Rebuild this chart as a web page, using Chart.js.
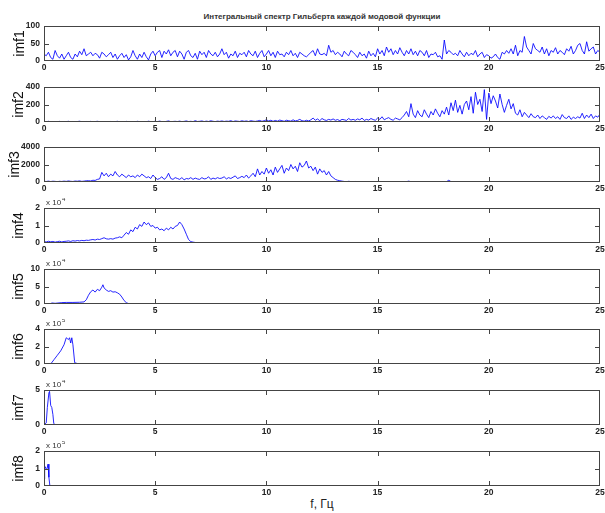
<!DOCTYPE html>
<html>
<head>
<meta charset="utf-8">
<script src="https://cdn.jsdelivr.net/npm/chart.js@4.4.1/dist/chart.umd.min.js"></script>
<style>
  body { margin: 0; background: #fff; width: 605px; height: 513px; position: relative; overflow: hidden; font-family: "Liberation Sans", Arial, sans-serif; }
  canvas { position: absolute; left: 0; }
  #title { position: absolute; top: 12px; left: 44px; width: 556px; text-align: center; font-size: 8px; font-weight: bold; color: #333; }
  #xlab { position: absolute; top: 497px; left: 44px; width: 556px; text-align: center; font-size: 12px; color: #222; }
</style>
</head>
<body>
<div id="title">Интегральный спектр Гильберта каждой модовой функции</div>
<div id="xlab">f, Гц</div>
<script>
'use strict';
// ******* DATA ********
// imf1..imf3: values every 0.1 Hz from 0 to 25 Hz
let freqStep = 0.1;

let imf1 = [
  20, 15, 25, 10, 5, 30, 15, 8, 20, 5,
  15, 25, 10, 5, 20, 12, 28, 18, 35, 15,
  20, 25, 15, 22, 18, 8, 25, 20, 12, 18,
  25, 10, 20, 5, 15, 22, 10, 18, 3, 12,
  30, 15, 5, 20, 10, 25, 12, 3, 20, 28,
  15, 25, 30, 10, 28, 20, 32, 15, 25, 30,
  12, 28, 20, 5, 25, 30, 15, 10, 22, 5,
  28, 18, 25, 10, 30, 20, 15, 25, 12, 20,
  35, 18, 25, 8, 20, 15, 28, 10, 22, 18,
  25, 12, 30, 20, 15, 28, 10, 22, 30, 12,
  20, 30, 15, 25, 10, 28, 18, 20, 12, 25,
  18, 30, 15, 22, 10, 25, 20, 15, 12, 18,
  25, 30, 15, 35, 20, 18, 22, 15, 45, 25,
  30, 18, 25, 20, 12, 28, 20, 15, 30, 25,
  18, 10, 25, 15, 20, 8, 28, 15, 22, 12,
  35, 20, 30, 15, 40, 25, 35, 18, 30, 20,
  38, 25, 15, 30, 20, 35, 18, 28, 15, 30,
  25, 15, 30, 10, 20, 18, 25, 12, 15, 5,
  60, 20, 30, 25, 18, 22, 15, 30, 20, 12,
  25, 15, 22, 18, 30, 12, 20, 25, 10, 18,
  15, 8, 12, 20, 10, 5, 25, 20, 30, 22,
  35, 20, 45, 15, 30, 25, 70, 40, 30, 20,
  50, 35, 30, 25, 40, 20, 35, 15, 30, 25,
  38, 20, 30, 25, 18, 35, 28, 42, 20, 30,
  45, 50, 30, 20, 55, 28, 35, 40, 20, 30, 25
];

let imf2 = [
  5, 3, 8, 2, 6, 4, 3, 7, 2, 5,
  4, 8, 3, 6, 2, 5, 9, 3, 4, 6,
  3, 7, 2, 5, 8, 4, 3, 6, 2, 5,
  6, 2, 4, 8, 3, 5, 2, 7, 4, 3,
  5, 3, 8, 4, 2, 6, 3, 9, 4, 5,
  8, 4, 10, 5, 3, 7, 12, 4, 6, 8,
  5, 10, 4, 7, 12, 5, 8, 4, 15, 6,
  8, 12, 5, 10, 6, 14, 8, 5, 10, 7,
  12, 6, 10, 8, 15, 5, 12, 9, 6, 14,
  8, 12, 6, 15, 10, 7, 12, 18, 8, 15,
  25, 12, 20, 8, 18, 10, 22, 15, 8, 20,
  15, 10, 25, 12, 18, 30, 15, 10, 20, 12,
  25, 45, 20, 35, 15, 40, 25, 18, 30, 22,
  35, 20, 28, 15, 30, 25, 18, 40, 22, 30,
  20, 35, 25, 45, 18, 30, 22, 40, 28, 20,
  45, 30, 60, 25, 40, 50, 30, 20, 45, 35,
  25, 50, 80, 120, 60, 210, 90, 50, 130, 80,
  60, 140, 90, 50, 120, 80, 150, 100, 60, 130,
  90, 170, 80, 220, 130, 250, 110, 190, 90, 200,
  240, 140, 290, 100, 340, 200, 260, 120, 370, 30,
  330, 210, 300, 240, 160, 320, 200, 110, 190, 260,
  150, 210, 100, 80, 140, 60, 110, 80, 50, 95,
  60, 50, 80, 40, 70, 50, 30, 65, 45, 70,
  40, 60, 30, 85, 50, 40, 70, 30, 55, 40,
  60, 45, 100, 40, 80, 50, 90, 40, 70, 55, 90
];

let imf3 = [
  80, 60, 100, 50, 90, 70, 40, 80, 60, 100,
  70, 120, 80, 60, 110, 90, 130, 70, 100, 140,
  150, 120, 200, 180, 300, 350, 1100, 700, 1000, 600,
  900, 700, 1200, 800, 600, 900, 700, 500, 800, 600,
  700, 500, 800, 600, 900, 700, 500, 600, 400, 800,
  500, 300, 400, 600, 300, 500, 1000, 400, 300, 500,
  400, 300, 500, 250, 400, 350, 500, 300, 450, 350,
  300, 500, 350, 400, 600, 300, 450, 350, 500, 400,
  450, 600, 350, 500, 400, 550, 700, 400, 500, 650,
  500, 800, 450, 700, 1000, 600, 1500, 800, 1200, 900,
  1600, 1000, 1400, 800, 1700, 1100, 1500, 1900, 1000, 1600,
  1300, 2000, 1500, 1800, 1200, 2200, 1700, 1900, 2400, 1600,
  1800, 1300, 1700, 900, 1500, 1100, 1300, 800, 1200, 700,
  500, 300, 200, 150, 100, 60, 40, 80, 50, 30,
  60, 20, 40, 30, 20, 30, 20, 30, 20, 30,
  20, 30, 20, 40, 20, 30, 20, 30, 20, 30,
  20, 30, 20, 40, 100, 30, 20, 30, 20, 30,
  20, 30, 20, 40, 20, 30, 20, 30, 20, 30,
  20, 40, 200, 40, 20, 30, 20, 30, 20, 30,
  30, 15, 35, 20, 25, 10, 30, 20, 15, 25,
  20, 30, 15, 25, 10, 20, 30, 15, 25, 20,
  15, 25, 20, 30, 10, 25, 15, 20, 30, 20,
  25, 15, 30, 20, 10, 25, 20, 15, 30, 20,
  20, 30, 15, 25, 20, 10, 25, 30, 15, 20,
  25, 15, 20, 30, 10, 20, 25, 15, 30, 20, 25
];

// imf4..imf8: frequency / value pairs (values in units of the axis multiplier)
let imf4Freq = [
  0, 0.1, 0.2, 0.3, 0.4, 0.5, 0.6, 0.7, 0.8, 0.9,
  1, 1.1, 1.2, 1.3, 1.4, 1.5, 1.6, 1.7, 1.8, 1.9,
  2, 2.1, 2.2, 2.3, 2.4, 2.5, 2.6, 2.7, 2.8, 2.9,
  3, 3.1, 3.2, 3.3, 3.4, 3.5, 3.6, 3.7, 3.8, 3.9,
  4, 4.1, 4.2, 4.3, 4.4, 4.5, 4.6, 4.7, 4.8, 4.9,
  5, 5.1, 5.2, 5.3, 5.4, 5.5, 5.6, 5.7, 5.8, 5.9,
  6, 6.1, 6.2, 6.3, 6.4, 6.5, 6.6, 6.7, 6.8, 6.9, 7, 25
];
let imf4 = [
  0.08, 0.06, 0.1, 0.07, 0.09, 0.05, 0.08, 0.1, 0.06, 0.09,
  0.1, 0.12, 0.09, 0.13, 0.11, 0.14, 0.12, 0.15, 0.13, 0.16,
  0.15, 0.18, 0.2, 0.17, 0.22, 0.2, 0.25, 0.3, 0.24, 0.22,
  0.25, 0.22, 0.28, 0.3, 0.35, 0.3, 0.45, 0.6, 0.5, 0.75,
  0.65, 0.9, 0.8, 1.05, 0.95, 1.2, 1.05, 1.15, 0.95, 1.0,
  0.85, 0.9, 0.75, 0.8, 0.7, 0.85, 0.75, 0.9, 0.8, 0.95,
  1.0, 1.2, 1.05, 0.8, 0.5, 0.2, 0.08, 0.05, 0.03, 0.02, 0.01, 0
];

let imf5Freq = [0, 0.3, 0.35, 0.5, 0.8, 1.0, 1.3, 1.6, 1.8, 1.9, 2.0, 2.1, 2.2, 2.3, 2.4, 2.5, 2.6, 2.65, 2.7, 2.8, 2.9, 3.0, 3.1, 3.2, 3.3, 3.4, 3.5, 3.6, 3.7, 3.8, 4.0, 25];
let imf5 = [0, 0, 0.3, 0.2, 0.4, 0.45, 0.45, 0.5, 0.6, 1.2, 2.5, 3.5, 4.0, 3.4, 4.2, 3.8, 4.8, 5.5, 4.6, 4.0, 3.6, 3.8, 3.4, 3.5, 3.2, 2.8, 2.0, 1.0, 0.4, 0.1, 0, 0];

let imf6Freq = [0, 0.3, 0.45, 0.6, 0.75, 0.9, 1.0, 1.05, 1.1, 1.15, 1.2, 1.25, 1.3, 1.38, 1.5, 25];
let imf6 = [0, 0, 0.5, 1.0, 1.5, 2.2, 3.0, 2.9, 2.8, 3.0, 2.4, 3.0, 2.2, 0.15, 0.05, 0];

let imf7Freq = [0, 0.1, 0.15, 0.22, 0.25, 0.3, 0.35, 0.4, 0.44, 0.5, 25];
let imf7 = [0, 0.3, 2.5, 4.6, 4.8, 2.8, 2.5, 1.5, 0.2, 0.05, 0];

let imf8Freq = [0, 0.03, 0.06, 0.1, 0.14, 0.18, 0.22, 0.26, 0.3, 25];
let imf8 = [0.4, 1.0, 1.1, 0.95, 1.0, 1.25, 0.5, 0.05, 0, 0];

let names = ['imf1', 'imf2', 'imf3', 'imf4', 'imf5', 'imf6', 'imf7', 'imf8'];
let yMax = [100, 400, 4000, 2, 10, 4, 5, 2];
let yStep = [50, 200, 2000, 1, 5, 2, 5, 1];
let yExp = [0, 0, 0, 4, 4, 5, 4, 5];
let xTicks = [0, 5, 10, 15, 20, 25];

// ******* LAYOUT ********
let plotTops = [26, 87, 147, 208, 269, 329, 390, 451];
let plotH = 35;
let padTop = 10;
let xAxisH = 15;
// horizontal centre of each y label (matlab moves it with tick label width)
let labelX = [17.7, 17, 13, 17, 17, 17, 17, 17];

function stepPoints(vals) {
  let pts = [];
  for (let i = 0; i < vals.length; i++) {
    pts.push({ x: +(i * freqStep).toFixed(2), y: vals[i] });
  }
  return pts;
}

function pairPoints(freqs, vals) {
  let pts = [];
  for (let i = 0; i < freqs.length; i++) {
    pts.push({ x: freqs[i], y: vals[i] });
  }
  return pts;
}

let series = [
  stepPoints(imf1),
  stepPoints(imf2),
  stepPoints(imf3),
  pairPoints(imf4Freq, imf4),
  pairPoints(imf5Freq, imf5),
  pairPoints(imf6Freq, imf6),
  pairPoints(imf7Freq, imf7),
  pairPoints(imf8Freq, imf8)
];

// box + inward ticks like matlab axes, plus the "x 10^n" label
let matBox = {
  id: 'matBox',
  afterDatasetsDraw(chart, args, opts) {
    let ctx = chart.ctx;
    let a = chart.chartArea;
    let xs = chart.scales.x;
    let ys = chart.scales.y;
    ctx.save();
    ctx.strokeStyle = '#444';
    ctx.lineWidth = 1;
    ctx.strokeRect(a.left + 0.5, a.top + 0.5, a.right - a.left - 1, a.bottom - a.top - 1);
    ctx.beginPath();
    xs.ticks.forEach(t => {
      if (t.value <= xs.min || t.value >= xs.max) return;
      let px = Math.round(xs.getPixelForValue(t.value)) + 0.5;
      ctx.moveTo(px, a.bottom);
      ctx.lineTo(px, a.bottom - 5);
      ctx.moveTo(px, a.top);
      ctx.lineTo(px, a.top + 5);
    });
    ys.ticks.forEach(t => {
      if (t.value <= ys.min || t.value >= ys.max) return;
      let py = Math.round(ys.getPixelForValue(t.value)) + 0.5;
      ctx.moveTo(a.left, py);
      ctx.lineTo(a.left + 5, py);
      ctx.moveTo(a.right, py);
      ctx.lineTo(a.right - 5, py);
    });
    ctx.stroke();
    if (opts.exp) {
      ctx.fillStyle = '#333';
      ctx.textBaseline = 'alphabetic';
      ctx.font = '8px "Liberation Sans", Arial, sans-serif';
      let base = 'x 10';
      ctx.fillText(base, a.left + 2, a.top - 3);
      let w = ctx.measureText(base).width;
      ctx.font = '6px "Liberation Sans", Arial, sans-serif';
      ctx.fillText(String(opts.exp), a.left + 3 + w, a.top - 7);
    }
    ctx.restore();
  }
};

let tickFont = { family: '"Liberation Sans", Arial, sans-serif', size: 8.5, weight: 'bold' };

function renderPanel(i) {
  let canvasElem = document.createElement('canvas');
  canvasElem.width = 605;
  canvasElem.height = padTop + plotH + xAxisH;
  canvasElem.style.top = (plotTops[i] - padTop) + 'px';
  document.body.appendChild(canvasElem);

  new Chart(canvasElem, { // eslint-disable-line
    type: 'line',
    data: {
      datasets: [{
        data: series[i],
        borderColor: 'rgba(0, 0, 255, 0.85)',
        borderWidth: 1,
        pointRadius: 0,
        tension: 0,
        fill: false
      }]
    },
    options: {
      responsive: false,
      animation: false,
      devicePixelRatio: 1,
      layout: { padding: { top: padTop, left: 6, right: 5, bottom: 0 } },
      plugins: {
        legend: { display: false },
        tooltip: { enabled: false },
        matBox: { exp: yExp[i] }
      },
      scales: {
        x: {
          type: 'linear',
          min: 0,
          max: 25,
          afterBuildTicks: s => { s.ticks = xTicks.map(v => ({ value: v })); },
          grid: { display: false, drawTicks: false },
          border: { display: false },
          ticks: { padding: 2, font: tickFont, color: '#222', maxRotation: 0, autoSkip: false },
          afterFit: s => { s.height = xAxisH; s.paddingLeft = 0; s.paddingRight = 0; }
        },
        y: {
          min: 0,
          max: yMax[i],
          grid: { display: false, drawTicks: false },
          border: { display: false },
          ticks: { stepSize: yStep[i], padding: 4, font: tickFont, color: '#222', callback: v => String(v) },
          title: {
            display: true,
            text: names[i],
            color: '#111',
            padding: { top: labelX[i] - 12.4, bottom: 0 },
            font: { family: '"Liberation Sans", Arial, sans-serif', size: 14 }
          },
          afterFit: s => { s.width = 38; }
        }
      }
    },
    plugins: [matBox]
  });
}

// ***** EXECUTABLE CODE ******
for (let i = 0; i < names.length; i++) {
  renderPanel(i);
}
</script>
</body>
</html>
